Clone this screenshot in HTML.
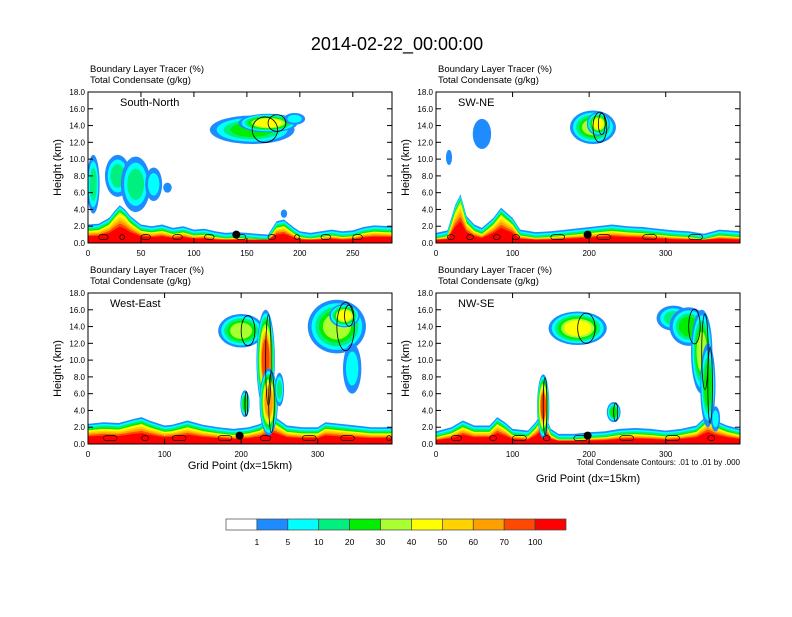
<!DOCTYPE html>
<html><head><meta charset="utf-8"><style>
body{margin:0;background:#fff;}
svg text{font-family:"Liberation Sans",sans-serif;fill:#000;}
</style></head><body>
<svg id="chart" width="792" height="612" viewBox="0 0 792 612" xmlns="http://www.w3.org/2000/svg">
<rect width="792" height="612" fill="#fff"/>
<text x="397" y="50" font-size="18" text-anchor="middle">2014-02-22_00:00:00</text>
</svg>
<script>
// ---- data ----
const levelLabels = ["1","5","10","20","30","40","50","60","70","100"];
const levelColors = ["#ffffff","#1e8cff","#00ffff","#00f080","#00ee00","#aaff30","#ffff00","#ffd200","#ffa000","#ff4800","#ff0000"];
const yTicks = [0,2,4,6,8,10,12,14,16,18];

const p1Name = "South-North";
const p1XTicks = [0,50,100,150,200,250];
const p1Xs   = [0,10,20,25,30,35,40,50,60,70,80,90,100,110,120,130,140,150,160,170,178,185,195,200,210,220,230,240,250,260,270,287];
const p1Bl   = [2.2,2.3,3.0,3.8,4.5,4.0,3.2,2.2,2.0,2.2,1.8,2.0,1.6,1.7,1.4,1.2,1.3,1.2,1.1,1.0,2.6,2.8,1.8,1.4,1.2,1.4,1.6,1.4,1.5,1.9,2.1,2.0];
const p1Blobs = [[155,13.5,40,1.7,4],[170,14.3,28,1.1,6],[195,14.8,10,0.7,2],[5,7,6,3.5,3],[28,8,12,2.5,3],[45,7,14,3.3,3],[62,7,8,2,2],[75,6.6,4,0.6,1],[185,3.5,3,0.5,1]];
const p1Dot = [140,1.0];
const p1Xmax = 287;

const p2Name = "SW-NE";
const p2XTicks = [0,100,200,300];
const p2Xs   = [0,15,25,32,40,50,60,75,85,90,100,110,130,150,170,190,210,230,250,270,290,310,330,350,370,397];
const p2Bl   = [1.2,1.5,4.5,5.8,3.2,2.2,1.8,3.0,4.2,3.8,3.0,1.6,1.3,1.4,1.6,1.8,2.0,2.2,2.0,1.9,1.7,1.5,1.4,1.1,1.6,1.4];
const p2Blobs = [[205,13.8,30,2,5],[212,14.2,15,1.4,6],[60,13,12,1.8,1],[17,10.2,4,0.9,1]];
const p2Dot = [198,1.0];
const p2Xmax = 397;

const p3Name = "West-East";
const p3XTicks = [0,100,200,300];
const p3Xs   = [0,20,40,60,70,80,100,110,130,150,170,190,210,225,240,260,280,300,310,330,350,370,390,397];
const p3Bl   = [2.4,2.6,2.5,3.0,3.2,2.8,2.2,2.3,2.8,2.3,2.0,1.8,2.0,2.4,3.5,2.2,2.0,2.0,2.6,2.4,2.2,2.0,2.0,2.0];
const p3Blobs = [[200,13.5,30,2,5],[232,10,12,6,9],[236,5,12,4,8],[205,4.8,6,1.6,4],[250,6.5,6,2,3],[325,14,38,3.2,5],[335,15.3,20,1.4,6],[345,9,12,3,2]];
const p3Dot = [198,1.0];
const p3Xmax = 397;

const p4Name = "NW-SE";
const p4XTicks = [0,100,200,300];
const p4Xs   = [0,20,35,50,70,80,90,100,120,130,140,150,160,180,200,220,240,260,280,300,320,340,355,365,380,397];
const p4Bl   = [1.5,2.0,2.8,2.2,2.2,3.2,2.6,1.8,1.6,2.6,4.0,1.8,1.2,1.2,1.4,1.5,1.8,1.9,1.8,1.6,1.8,2.2,3.5,2.8,2.2,1.8];
const p4Blobs = [[185,13.8,38,2,6],[140,4.5,8,3.8,9],[232,3.8,9,1.2,4],[310,15,22,1.5,3],[330,14,25,2.3,4],[347,11,14,5,5],[355,7,10,5,4],[365,3,6,1.5,2]];
const p4Dot = [198,1.0];
const p4Xmax = 397;

// ---- drawing ----
const svg = document.getElementById('chart');
const NS = 'http://www.w3.org/2000/svg';
function mk(tag, attrs, parent){
  const e = document.createElementNS(NS, tag);
  for (const k in attrs) e.setAttribute(k, attrs[k]);
  (parent||svg).appendChild(e);
  return e;
}

function drawPanel(px, py, pw, ph, xmax, xs, bl, blobs, dot, xticks, name, key, xtitle, footnote){
  const g = mk('g', {});
  
  
  const X = v => px + v / xmax * pw;
  const Y = v => py + ph - v / 18 * ph;
  const clipId = 'clip-' + key;
  const cp = mk('clipPath', {id: clipId}, g);
  mk('rect', {x: px, y: py, width: pw, height: ph}, cp);
  const inner = mk('g', {'clip-path': 'url(#' + clipId + ')'}, g);
  for (let k = 1; k <= 10; k++){
    let pts = X(xs[0]) + ',' + Y(0);
    for (let i = 0; i < xs.length; i++){
      let top = k <= 5 ? bl[i] - 0.2 * (k - 1) : (bl[i] - 0.6) * (1 - (k - 5) * 0.1);
      top = Math.max(0.4, top);
      pts += ' ' + X(xs[i]) + ',' + Y(top);
    }
    pts += ' ' + X(xs[xs.length - 1]) + ',' + Y(0);
    const p = mk('polygon', {points: pts, fill: levelColors[k]}, inner);
    
    
  }
  blobs.forEach((b, bi) => {
    for (let k = 1; k <= b[4]; k++){
      const f = 1 - (k - 1) / Math.max(b[4], 1) * 0.65;
      const e = mk('ellipse', {cx: X(b[0]), cy: Y(b[1]), rx: b[2] / xmax * pw * f, ry: b[3] / 18 * ph * f, fill: levelColors[k]}, inner);
      
      
    }
  });
  blobs.forEach((b, bi) => {
    if (b[4] >= 4){
      const c = mk('ellipse', {cx: X(b[0] + b[2] * 0.3), cy: Y(b[1]), rx: b[2] / xmax * pw * 0.3, ry: b[3] / 18 * ph * 0.9, fill: 'none', stroke: '#000', 'stroke-width': 0.8}, inner);
      
      
    }
  });
  for (let i = 1; i < xs.length - 1; i += 3){
    const r = mk('rect', {x: X(xs[i]), y: Y(1.0), width: (xs[i+1] - xs[i]) / xmax * pw * 0.9, height: 0.6 / 18 * ph, rx: 3, fill: 'none', stroke: '#000', 'stroke-width': 0.7}, inner);
    
    
  }
  const d = mk('circle', {cx: X(dot[0]), cy: Y(dot[1]), r: 4, fill: '#000'}, inner);
  
  
  const fr = mk('rect', {x: px, y: py, width: pw, height: ph, fill: 'none', stroke: '#000', 'stroke-width': 1}, g);
  
  
  yTicks.forEach(t => {
    mk('line', {x1: px, x2: px + 5, y1: Y(t), y2: Y(t), stroke: '#000', 'stroke-width': 1}, g);
    mk('line', {x1: px + pw, x2: px + pw - 5, y1: Y(t), y2: Y(t), stroke: '#000', 'stroke-width': 1}, g);
    const tl = mk('text', {x: px - 3, y: Y(t) + 3, 'font-size': 8, 'text-anchor': 'end'}, g);
    tl.textContent = t.toFixed(1);
    
    
  });
  xticks.forEach(t => {
    mk('line', {x1: X(t), x2: X(t), y1: py + ph, y2: py + ph - 5, stroke: '#000', 'stroke-width': 1}, g);
    mk('line', {x1: X(t), x2: X(t), y1: py, y2: py + 5, stroke: '#000', 'stroke-width': 1}, g);
    const tl = mk('text', {x: X(t), y: py + ph + 13, 'font-size': 8, 'text-anchor': 'middle'}, g);
    tl.textContent = t;
    
    
  });
  const yt = mk('text', {x: 0, y: 0, 'font-size': 11, 'text-anchor': 'middle', transform: 'translate(' + (px - 27) + ',' + (py + ph / 2) + ') rotate(-90)'}, g);
  yt.textContent = 'Height (km)';
  
  
  const t1 = mk('text', {x: px + 2, y: py - 20, 'font-size': 9.5}, g);
  t1.textContent = 'Boundary Layer Tracer   (%)';
  
  
  const t2 = mk('text', {x: px + 2, y: py - 9, 'font-size': 9.5}, g);
  t2.textContent = 'Total Condensate   (g/kg)';
  
  
  const nm = mk('text', {x: px + (key === 'panel-south-north' ? 32 : 22), y: py + 14, 'font-size': 11}, g);
  nm.textContent = name;
  
  
  if (xtitle){
    const xt = mk('text', {x: px + pw / 2, y: py + ph + (footnote ? 38 : 25), 'font-size': 11, 'text-anchor': 'middle'}, g);
    xt.textContent = 'Grid Point (dx=15km)';
    
    
  }
  if (footnote){
    const fn = mk('text', {x: px + pw, y: py + ph + 21, 'font-size': 8, 'text-anchor': 'end'}, g);
    fn.textContent = 'Total Condensate Contours: .01 to .01 by .000';
    
    
  }
}

drawPanel(88, 92, 304, 151, p1Xmax, p1Xs, p1Bl, p1Blobs, p1Dot, p1XTicks, p1Name, 'panel-south-north', false, false);
drawPanel(436, 92, 304, 151, p2Xmax, p2Xs, p2Bl, p2Blobs, p2Dot, p2XTicks, p2Name, 'panel-sw-ne', false, false);
drawPanel(88, 293, 304, 151, p3Xmax, p3Xs, p3Bl, p3Blobs, p3Dot, p3XTicks, p3Name, 'panel-west-east', true, false);
drawPanel(436, 293, 304, 151, p4Xmax, p4Xs, p4Bl, p4Blobs, p4Dot, p4XTicks, p4Name, 'panel-nw-se', true, true);

const cb = mk('g', {});


const cbX = 226, cbW = 340, cbY = 519, cbH = 11;
const boxW = cbW / levelColors.length;
levelColors.forEach((c, i) => {
  const r = mk('rect', {x: cbX + i * boxW, y: cbY, width: boxW, height: cbH, fill: c, stroke: '#444', 'stroke-width': 0.7}, cb);
  
  
});
levelLabels.forEach((l, i) => {
  const t = mk('text', {x: cbX + (i + 1) * boxW, y: cbY + 26, 'font-size': 8.5, 'text-anchor': 'middle'}, cb);
  t.textContent = l;
  
  
});
</script>
</body></html>
